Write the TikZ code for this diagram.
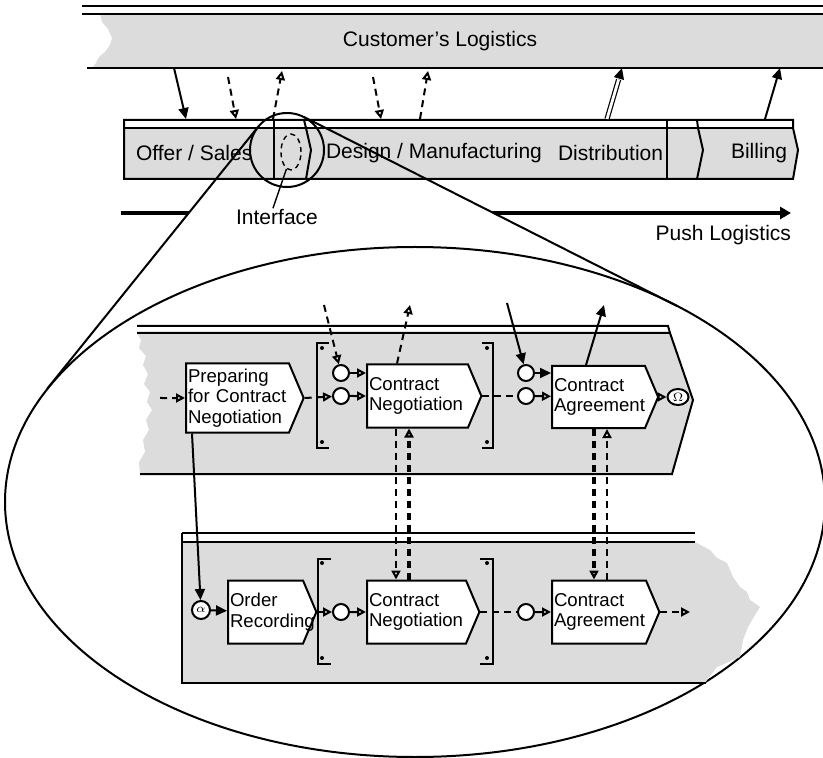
\documentclass[tikz,border=0pt]{standalone}
\usepackage{fontspec}
\setmainfont{Liberation Sans}
\usetikzlibrary{arrows.meta,shapes.symbols,shapes.geometric,calc}

\definecolor{lane}{RGB}{220,220,220}

\tikzset{
  fn/.style={signal, signal to=east, signal from=nowhere, signal pointer angle=134,
    draw, fill=white, anchor=west, align=left, inner xsep=1pt, inner ysep=0pt,
    font=\fontsize{9.3}{10.3}\selectfont, execute at begin node={\hyphenpenalty=10000}},
  ev/.style={circle, draw, fill=white, minimum size=8pt, inner sep=0pt},
  lbl/.style={inner sep=0pt},
  cf/.style={dash pattern=on 3.5pt off 2.5pt},
  opn/.style={-{Triangle[open,length=4.5pt,width=4.5pt]}},
  sld/.style={-{Triangle[length=5.5pt,width=5pt]}},
}

\begin{document}
\begin{tikzpicture}[x=0.5pt, y=-0.5pt, line width=1pt, font=\fontsize{10.5}{12.6}\selectfont]
\useasboundingbox (0,0) rectangle (823,758);

% customer lane
\fill[lane] (100,14) -- (823,14) -- (823,68) -- (92,68) -- (96,63) -- (99,57) -- (105,52)
  -- (110,45) -- (112,38) -- (108,29) -- (102,22) -- cycle;
\draw (82,6) -- (823,6);
\draw (82,14) -- (823,14);
\draw (87,68) -- (823,68);
\node[lbl] (cust) at (440,41) {Customer’s Logistics};

% push logistics
\coordinate (ps) at (121,213);
\coordinate (pe) at (791,213);
\draw[line width=2.3pt, -{Triangle[length=5.5pt,width=6pt]}] (ps) -- (pe);
\node[lbl, anchor=east] (push) at (792,235) {Push Logistics};

% zoom cone
\coordinate (lensL) at (258,127);
\coordinate (lensR) at (304,117);
\coordinate (ellL) at (47,389);
\coordinate (ellR) at (677,306);
\fill[white] (lensL) -- (ellL) -- (ellR) -- (lensR) -- cycle;

% process bar
\fill[lane] (124,128) -- (793,128) -- (798,150) -- (793,179) -- (124,179) -- cycle;
\draw (124,120) -- (793,120) -- (793,128) -- (798,150) -- (793,179) -- (124,179) -- cycle;
\draw (124,128) -- (793,128);
\draw (274,120) -- (274,179);
\draw (304,120) -- (306,128) -- (311,150) -- (306,179);
\draw (667,120) -- (667,179);
\draw (697,120) -- (698,128) -- (703,150) -- (697,179);
\node[lbl, anchor=west] (offer) at (135,153) {Offer / Sales};
\node[lbl, anchor=west] (design) at (325,153) {Design / Manufacturing};
\node[lbl, anchor=west] (distr) at (557,153) {Distribution};
\node[lbl, anchor=west] (bill) at (730,153) {Billing};

% flows between customer and bar
\coordinate (t1) at (174,68);  \coordinate (b1) at (186,119);
\coordinate (t2) at (228,77);  \coordinate (b2) at (236,119);
\coordinate (t3) at (282,71);  \coordinate (b3) at (273,119);
\coordinate (t4) at (373,77);  \coordinate (b4) at (381,119);
\coordinate (t5) at (428,71);  \coordinate (b5) at (420,119);
\coordinate (t6) at (622,68);  \coordinate (b6) at (607,119);
\coordinate (t7) at (780,68);  \coordinate (b7) at (765,119);
\draw[sld] (t1) -- (b1);
\draw[cf, opn] (t2) -- (b2);
\draw[cf, opn] (b3) -- (t3);
\draw[cf, opn] (t4) -- (b4);
\draw[cf, opn] (b5) -- (t5);
\draw[double, double distance=1.4pt, line width=0.6pt, shorten >=6pt] (b6) -- (t6);
\draw[sld] ($(b6)!0.8!(t6)$) -- (t6);
\draw[sld] (b7) -- (t7);

% interface
\node[draw, dash pattern=on 2.5pt off 2pt, ellipse, minimum width=10pt, minimum height=18pt, inner sep=0pt, line width=0.7pt] (iface) at (291,152) {};
\node[lbl] (iflbl) at (277,217) {Interface};
\draw[line width=0.7pt] (iflbl.115) -- (iface.255);

% lens, cone and zoomed view
\draw (287,150) circle [radius=18.5pt];
\draw (lensL) -- (ellL);
\draw (lensR) -- (ellR);
\draw (415,502) ellipse [x radius=205pt, y radius=127.5pt];

% upper lane
\fill[lane] (137,333) -- (670,333) -- (693,400) -- (672,474) -- (140,474) -- (139,462) -- (145,452)
  -- (143,440) -- (149,430) -- (146,420) -- (152,410) -- (147,402) -- (150,392) -- (144,384)
  -- (148,374) -- (143,365) -- (146,356) -- (139,348) -- (141,340) -- cycle;
\draw (137,326) -- (668,326) -- (670,333);
\draw (137,333) -- (670,333) -- (693,400) -- (672,474) -- (140,474);

% lower lane
\fill[lane] (182,542) -- (695,542) -- (710,550) -- (717,558) -- (727,563) -- (733,577) -- (740,587)
  -- (747,592) -- (750,600) -- (760,607) -- (755,615) -- (748,627) -- (743,640) -- (740,657)
  -- (717,667) -- (707,680) -- (705,683) -- (182,683) -- cycle;
\draw (182,533) -- (695,533);
\draw (182,542) -- (695,542);
\draw (182,533) -- (182,683) -- (706,683);

% brackets
\draw (329,343) -- (317,343) -- (317,448) -- (329,448);
\draw (482,343) -- (493,343) -- (493,448) -- (482,448);
\draw (331,559) -- (318,559) -- (318,664) -- (331,664);
\draw (480,559) -- (493,559) -- (493,664) -- (480,664);
\fill (322,348) circle (1pt) (322,442) circle (1pt) (487,348) circle (1pt) (487,442) circle (1pt);
\fill (322,563) circle (1pt) (322,658) circle (1pt) (487,563) circle (1pt) (487,658) circle (1pt);

% upper functions and events
\node[fn, text width=49.5pt, minimum height=34.5pt] (prep) at (185,398) {Preparing\\for Contract\\Negotiation};
\node[fn, text width=48.5pt, minimum height=31.5pt] (neg1) at (366,396) {Contract\\Negotiation};
\node[fn, text width=44.5pt, minimum height=31pt] (agr1) at (551,397) {Contract\\Agreement};
\node[ev] (c1a) at (341,373) {};
\node[ev] (c1b) at (341,396) {};
\node[ev] (c2a) at (526,373) {};
\node[ev] (c2b) at (526,396) {};
\node[ev, ellipse, minimum width=10.5pt, minimum height=8pt, font=\fontsize{6}{6}\selectfont] (omega) at (678,397) {$\Omega$};

% lower functions and events
\node[ev, minimum size=9pt, font=\fontsize{6.5}{6.5}\selectfont] (alpha) at (201,610) {$\alpha$};
\node[fn, text width=35.5pt, minimum height=31.5pt] (ord) at (227,612) {Order\\Recording};
\node[fn, text width=47.5pt, minimum height=31.5pt] (neg2) at (366,612) {Contract\\Negotiation};
\node[fn, text width=45pt, minimum height=31.5pt] (agr2) at (551,612) {Contract\\Agreement};
\node[ev] (c3) at (341,612) {};
\node[ev] (c4) at (526,612) {};

% upper flows
\coordinate (in1) at (160,398);
\coordinate (x1) at (324,305);
\coordinate (x2) at (410,305);
\coordinate (x3) at (507,303);
\coordinate (x4) at (604,305);
\draw[cf, opn] (in1) -- (prep);
\draw[cf, opn] (prep.east) -- (c1b);
\draw[cf, opn] (x1) -- (c1a);
\draw[cf, opn] (c1a) -- (neg1.west |- c1a);
\draw[cf, opn] (c1b) -- (neg1);
\draw[cf, opn] ([xshift=15.5pt]neg1.north west) -- (x2);
\draw[cf] (neg1.east) -- (c2b);
\draw[sld] (x3) -- (c2a);
\draw[sld] (c2a) -- (agr1.west |- c2a);
\draw[cf, opn] (c2b) -- (agr1);
\draw[sld] ([xshift=17.5pt]agr1.north west) -- (x4);
\draw[opn] (agr1.east) -- (omega);

% flows between the lanes
\draw[cf, opn] ([xshift=15pt]neg1.south west) -- ([xshift=15pt]neg2.north west);
\draw[cf, opn, line width=1.6pt] ([xshift=21.5pt]neg2.north west) -- ([xshift=21.5pt]neg1.south west);
\draw[cf, opn, line width=1.6pt] ([xshift=21.5pt]agr1.south west) -- ([xshift=21.5pt]agr2.north west);
\draw[cf, opn] ([xshift=28pt]agr2.north west) -- ([xshift=28pt]agr1.south west);
\draw[sld] ([xshift=3.5pt]prep.south west) -- (alpha);

% lower flows
\coordinate (out2) at (690,612);
\draw[sld] (alpha) -- (ord);
\draw[cf, opn] (ord.east) -- (c3);
\draw[cf, opn] (c3) -- (neg2);
\draw[cf] (neg2.east) -- (c4);
\draw[cf, opn] (c4) -- (agr2);
\draw[cf, opn] (agr2.east) -- (out2);
\end{tikzpicture}
\end{document}
